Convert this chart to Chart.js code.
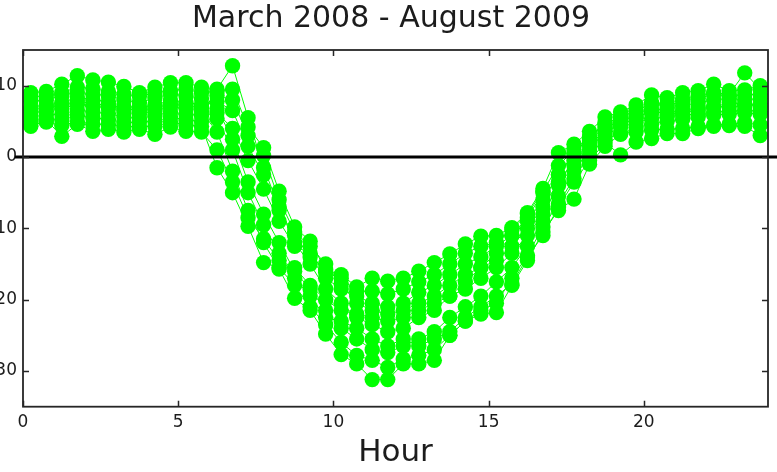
<!DOCTYPE html>
<html>
<head>
<meta charset="utf-8">
<script src="https://cdn.jsdelivr.net/npm/chart.js@4.4.1/dist/chart.umd.min.js"></script>
<style>
  html, body { margin: 0; padding: 0; background: #fff; overflow: hidden; }
  #wrap { position: absolute; left: -37px; top: 0; }
</style>
</head>
<body>
<div id="wrap"><canvas id="chart" width="856" height="472"></canvas></div>
<script>
// half-hour bins (bin centres, hours)
const hours = [0.25, 0.75, 1.25, 1.75, 2.25, 2.75, 3.25, 3.75, 4.25, 4.75, 5.25, 5.75,
  6.25, 6.75, 7.25, 7.75, 8.25, 8.75, 9.25, 9.75, 10.25, 10.75, 11.25, 11.75,
  12.25, 12.75, 13.25, 13.75, 14.25, 14.75, 15.25, 15.75, 16.25, 16.75, 17.25, 17.75,
  18.25, 18.75, 19.25, 19.75, 20.25, 20.75, 21.25, 21.75, 22.25, 22.75, 23.25, 23.75];

const seriesA = [9.0, 9.2, 10.2, 11.4, 10.8, 10.5, 9.9, 9.0, 9.8, 10.4, 10.4, 9.8,
  9.5, 12.8, 5.5, -1.5, -7.0, -12.0, -15.0, -18.5, -20.5, -22.5, -23.5, -24.5,
  -24.0, -22.5, -21.5, -19.5, -17.5, -15.5, -13.5, -11.0, -8.5, -5.0, -2.5, 0.5,
  2.8, 4.6, 5.6, 6.4, 7.6, 7.5, 8.2, 8.6, 9.0, 8.8, 11.8, 9.5];
const seriesB = [8.4, 8.6, 9.0, 9.8, 9.6, 9.2, 8.8, 8.5, 9.0, 9.3, 9.5, 9.0,
  9.2, 9.5, 4.2, 1.3, -4.8, -9.8, -11.8, -15.8, -16.5, -18.2, -17.0, -17.4,
  -17.0, -16.0, -14.8, -13.6, -12.2, -11.1, -11.0, -9.9, -7.8, -4.4, 0.6, 1.8,
  3.6, 5.6, 6.3, 7.3, 8.7, 8.3, 9.0, 9.3, 10.2, 9.3, 9.4, 10.0];
const seriesC = [7.8, 8.0, 8.6, 9.1, 8.8, 8.6, 8.0, 7.6, 8.3, 8.8, 8.6, 8.2,
  6.8, 2.5, -3.5, -8.0, -12.0, -16.0, -18.5, -21.5, -24.0, -25.5, -27.0, -27.4,
  -26.5, -25.5, -24.5, -22.5, -21.0, -19.5, -17.5, -15.5, -12.5, -9.0, -5.5, -2.0,
  1.0, 3.5, 4.5, 5.5, 6.5, 6.8, 7.2, 7.6, 8.0, 8.2, 8.0, 8.2];
const seriesD = [7.0, 7.3, 7.6, 8.4, 8.0, 7.8, 7.1, 6.9, 7.3, 7.9, 7.6, 7.4,
  7.8, 6.5, 1.5, -2.5, -7.5, -11.0, -14.0, -17.0, -18.5, -19.5, -20.5, -21.0,
  -20.5, -19.0, -18.0, -16.5, -15.0, -14.0, -12.5, -11.0, -9.0, -6.0, -2.5, 0.5,
  2.4, 4.2, 4.9, 5.8, 6.2, 6.3, 6.5, 6.9, 7.1, 7.0, 7.2, 7.5];
const seriesE = [6.2, 6.4, 6.8, 7.4, 7.1, 6.9, 6.3, 6.0, 6.5, 7.0, 6.8, 6.4,
  3.5, -2.0, -7.5, -12.0, -15.7, -19.8, -21.5, -24.8, -27.7, -29.0, -31.2, -31.2,
  -29.0, -29.0, -28.5, -25.0, -23.0, -22.0, -21.8, -18.0, -14.5, -10.5, -7.5, -5.9,
  -1.0, 1.5, 3.2, 4.1, 4.6, 5.0, 5.3, 5.6, 5.9, 6.0, 6.2, 6.0];
const seriesF = [5.6, 5.9, 6.0, 6.6, 6.3, 6.1, 5.6, 5.4, 5.8, 6.3, 6.0, 5.8,
  6.2, 4.0, -0.5, -4.5, -9.0, -12.5, -13.5, -16.2, -17.0, -18.8, -18.8, -19.2,
  -18.5, -17.5, -16.5, -15.0, -13.5, -12.5, -12.0, -10.2, -8.0, -4.8, -1.2, 1.0,
  2.8, 4.8, 5.5, 6.6, 7.4, 7.2, 7.8, 8.2, 8.8, 8.5, 8.7, 8.8];
const seriesG = [5.0, 5.4, 5.2, 5.8, 5.5, 5.3, 4.8, 4.9, 5.0, 5.6, 5.2, 5.0,
  5.4, 1.0, -5.0, -9.5, -13.5, -17.0, -19.5, -22.5, -23.0, -24.0, -25.5, -26.5,
  -25.5, -26.5, -25.5, -24.5, -22.5, -21.0, -19.5, -17.8, -14.0, -11.0, -7.0, -3.5,
  -0.5, 2.0, 0.3, 2.1, 2.6, 3.3, 3.3, 4.0, 4.3, 4.4, 4.3, 3.0];
const seriesH = [4.5, 4.9, 4.4, 5.0, 4.6, 4.6, 4.2, 4.3, 4.3, 4.9, 4.5, 4.3,
  -1.5, -5.0, -9.7, -14.8, -15.5, -18.0, -21.0, -23.5, -26.0, -27.8, -28.5, -29.5,
  -28.3, -27.8, -27.0, -25.0, -23.0, -21.5, -20.5, -17.0, -13.8, -9.8, -6.5, -3.0,
  0.3, 2.5, 3.3, 3.5, 3.8, 3.9, 4.0, 4.3, 4.5, 4.6, 4.8, 4.5];
const seriesI = [4.3, 5.2, 2.9, 4.6, 3.6, 3.9, 3.5, 3.9, 3.2, 4.2, 3.6, 3.5,
  1.0, -3.5, -8.5, -11.5, -14.5, -15.5, -18.0, -20.0, -21.5, -22.0, -22.5, -23.0,
  -22.5, -21.5, -20.5, -19.5, -18.5, -17.0, -15.5, -13.5, -11.0, -8.0, -4.0, -1.2,
  1.6, 3.8, 4.6, 5.4, 6.6, 5.9, 6.3, 6.5, 7.0, 7.6, 7.4, 7.0];
const seriesJ = [6.6, 6.9, 7.2, 7.9, 7.4, 7.3, 6.8, 6.5, 6.9, 7.4, 7.2, 6.9,
  8.6, 8.0, 3.0, 0.2, -6.0, -10.5, -12.5, -15.0, -17.8, -20.5, -21.5, -22.0,
  -21.5, -20.5, -19.5, -18.0, -16.5, -15.5, -14.5, -12.5, -10.0, -7.0, -3.5, -0.5,
  2.0, 3.0, 4.2, 4.8, 5.4, 5.6, 5.9, 6.0, 6.3, 6.4, 6.6, 6.4];

const allSeries = [seriesA, seriesB, seriesC, seriesD, seriesE,
  seriesF, seriesG, seriesH, seriesI, seriesJ];

const xTicks = [0, 5, 10, 15, 20];
const yTicks = [-30, -20, -10, 0, 10];
// the y = 0 reference line runs a little past both ends of the axis
const zeroSpan = [-0.26, 24.5];

const GREEN = '#00ff00';
const INK = '#1c1c1c';
Chart.defaults.font.family = "'DejaVu Sans', sans-serif";

const datasets = allSeries.map(vals => ({
  data: vals.map((v, i) => ({ x: hours[i], y: v })),
  borderColor: GREEN,
  borderWidth: 1,
  backgroundColor: GREEN,
  pointRadius: 7.7,
  pointBorderWidth: 0,
  pointBackgroundColor: GREEN,
  tension: 0
}));

datasets.push({
  data: zeroSpan.map(x => ({ x: x, y: 0 })),
  borderColor: '#000',
  borderWidth: 3,
  pointRadius: 0,
  clip: false,
  order: -1
});

// box around the plot with inward tick marks on all four sides
const boxFrame = {
  id: 'boxFrame',
  afterDraw(chart) {
    const { ctx, chartArea: a, scales: { x, y } } = chart;
    ctx.save();
    ctx.strokeStyle = '#262626';
    ctx.lineWidth = 1.8;
    ctx.strokeRect(a.left, a.top, a.right - a.left, a.bottom - a.top);
    ctx.lineWidth = 1.5;
    ctx.beginPath();
    xTicks.forEach(v => {
      const px = Math.round(x.getPixelForValue(v)) + 0.5;
      ctx.moveTo(px, a.bottom); ctx.lineTo(px, a.bottom - 6);
      ctx.moveTo(px, a.top); ctx.lineTo(px, a.top + 6);
    });
    yTicks.forEach(v => {
      const py = Math.round(y.getPixelForValue(v)) + 0.5;
      ctx.moveTo(a.left, py); ctx.lineTo(a.left + 6, py);
      ctx.moveTo(a.right, py); ctx.lineTo(a.right - 6, py);
    });
    ctx.stroke();
    ctx.restore();
  }
};

new Chart(document.getElementById('chart'), {
  type: 'line',
  data: { datasets: datasets },
  plugins: [boxFrame],
  options: {
    responsive: false,
    animation: false,
    events: [],
    layout: { padding: 0 },
    plugins: {
      legend: { display: false },
      tooltip: { enabled: false },
      title: {
        display: true,
        text: 'March 2008 - August 2009',
        color: INK,
        font: { size: 30, weight: 'normal' },
        padding: { top: 1, bottom: 13 }
      }
    },
    scales: {
      x: {
        type: 'linear',
        min: 0,
        max: 24,
        afterFit(s) { s.height = 65.3; },
        afterBuildTicks(s) { s.ticks = xTicks.map(v => ({ value: v })); },
        grid: { display: false, drawTicks: false },
        border: { display: false },
        ticks: { padding: 6, color: INK, font: { size: 17 }, maxRotation: 0, autoSkip: false },
        title: { display: true, text: 'Hour', color: INK, font: { size: 31 }, padding: 0 }
      },
      y: {
        type: 'linear',
        position: 'left',
        min: -35,
        max: 15,
        afterFit(s) { s.width = 60; },
        afterBuildTicks(s) { s.ticks = yTicks.map(v => ({ value: v })); },
        grid: { display: false, drawTicks: false },
        border: { display: false },
        ticks: { padding: 6, color: INK, font: { size: 17 } }
      },
      // empty right-hand box: keeps the title centred over the plot
      yRight: {
        type: 'linear',
        position: 'right',
        min: -35,
        max: 15,
        afterFit(s) { s.width = 51; },
        grid: { display: false, drawTicks: false },
        border: { display: false },
        ticks: { display: false }
      }
    }
  }
});
</script>
</body>
</html>
